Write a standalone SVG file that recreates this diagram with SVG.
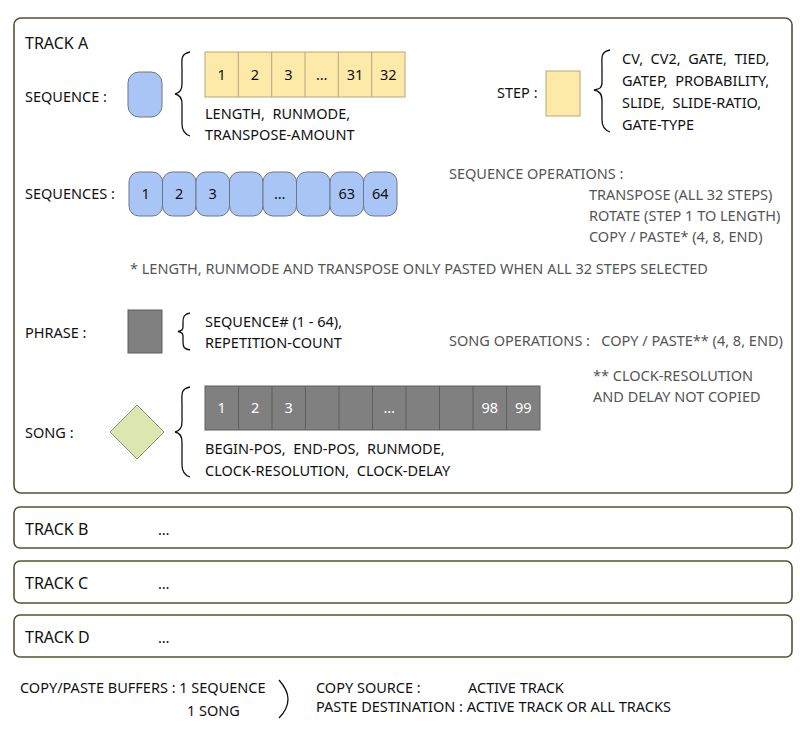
<svg xmlns="http://www.w3.org/2000/svg" width="800" height="740" viewBox="0 0 800 740" xml:space="preserve">
<style>
text{font-family:"Noto Sans","DejaVu Sans",sans-serif;font-size:14.5px;fill:#111;white-space:pre}
.h{font-size:16px}
.g{fill:#555}
.w{fill:#fff}
.c{text-anchor:middle}
.track{fill:#fff;stroke:#55532f;stroke-width:1.6}
.blue{fill:#a9c5f6;stroke:#6d7686;stroke-width:1}
.yel{fill:#fdeaa8;stroke:#b5a679;stroke-width:1}
.gry{fill:#808080;stroke:#5e5e5e;stroke-width:1}
.brace{fill:none;stroke:#111;stroke-width:1.3}
</style>
<rect width="800" height="740" fill="#fff"/>
<g id="trackA">
<rect class="track" x="14" y="18" width="778" height="475" rx="7"/>
<text class="h" x="25" y="49">TRACK A</text>
</g>
<g id="sequence">
<text x="25" y="102">SEQUENCE :</text>
<rect class="blue" x="128" y="72" width="34" height="45" rx="11"/>
<path class="brace" d="M190,52 C180,54 182,60 182,70 L182,84 C182,90 180,93 175,94 C180,95 182,98 182,104 L182,124 C182,130 184,134 190,136"/>
<g id="steps">
<rect class="yel" x="205" y="52" width="200" height="45"/>
<path class="yel" d="M238.3,52v45M271.7,52v45M305,52v45M338.3,52v45M371.7,52v45"/>
<text class="c" x="221.7" y="80">1</text>
<text class="c" x="255" y="80">2</text>
<text class="c" x="288.3" y="80">3</text>
<text class="c" x="321.7" y="80" font-size="10">…</text>
<text class="c" x="355" y="80">31</text>
<text class="c" x="388.3" y="80">32</text>
</g>
<text x="205" y="119">LENGTH,  RUNMODE,</text>
<text x="205" y="140">TRANSPOSE-AMOUNT</text>
</g>
<g id="step">
<text x="497" y="98">STEP :</text>
<rect class="yel" x="546" y="71" width="34" height="45"/>
<path class="brace" d="M610,50 C600,52 602,58 602,68 L602,82 C602,88 600,89 594,90 C600,91 602,94 602,100 L602,120 C602,126 604,130 610,132"/>
<text x="622" y="64">CV,  CV2,  GATE,  TIED,</text>
<text x="622" y="86">GATEP,  PROBABILITY,</text>
<text x="622" y="108">SLIDE,  SLIDE-RATIO,</text>
<text x="622" y="130">GATE-TYPE</text>
</g>
<g id="sequences">
<text x="25" y="199">SEQUENCES :</text>
<rect class="blue" x="129" y="172" width="33.5" height="44" rx="10"/>
<rect class="blue" x="162.5" y="172" width="33.5" height="44" rx="10"/>
<rect class="blue" x="196" y="172" width="33.5" height="44" rx="10"/>
<rect class="blue" x="229.5" y="172" width="33.5" height="44" rx="10"/>
<rect class="blue" x="263" y="172" width="33.5" height="44" rx="10"/>
<rect class="blue" x="296.5" y="172" width="33.5" height="44" rx="10"/>
<rect class="blue" x="330" y="172" width="33.5" height="44" rx="10"/>
<rect class="blue" x="363.5" y="172" width="33.5" height="44" rx="10"/>
<text class="c" x="145.7" y="199">1</text>
<text class="c" x="179.2" y="199">2</text>
<text class="c" x="212.7" y="199">3</text>
<text class="c" x="279.7" y="199" font-size="10">…</text>
<text class="c" x="346.7" y="199">63</text>
<text class="c" x="380.2" y="199">64</text>
</g>
<g id="seqops">
<text class="g" x="449" y="179">SEQUENCE OPERATIONS :</text>
<text class="g" x="589" y="200">TRANSPOSE (ALL 32 STEPS)</text>
<text class="g" x="589" y="221">ROTATE (STEP 1 TO LENGTH)</text>
<text class="g" x="589" y="242">COPY / PASTE* (4, 8, END)</text>
<text class="g" x="130" y="274">* LENGTH, RUNMODE AND TRANSPOSE ONLY PASTED WHEN ALL 32 STEPS SELECTED</text>
</g>
<g id="phrase">
<text x="25" y="338">PHRASE :</text>
<rect class="gry" x="128" y="310" width="34" height="43"/>
<path class="brace" d="M190,313 C184,314 183,317 183,322 L183,327 C183,330 181,331 178,331.5 C181,332 183,333 183,336 L183,342 C183,347 184,349 190,350"/>
<text x="205" y="327">SEQUENCE# (1 - 64),</text>
<text x="205" y="348">REPETITION-COUNT</text>
</g>
<g id="songops">
<text class="g" x="449" y="346">SONG OPERATIONS :   COPY / PASTE** (4, 8, END)</text>
<text class="g" x="593" y="381">** CLOCK-RESOLUTION</text>
<text class="g" x="593" y="402">AND DELAY NOT COPIED</text>
</g>
<g id="song">
<text x="25" y="438">SONG :</text>
<path d="M137,405 L164,432 L137,459 L110,432 Z" fill="#dbe6b0" stroke="#8c9474" stroke-width="1"/>
<path class="brace" d="M190,387 C180,389 182,395 182,405 L182,422 C182,428 180,431 175,432 C180,433 182,436 182,442 L182,465 C182,471 184,475 190,477"/>
<g id="songcells">
<rect class="gry" x="205" y="386" width="335" height="44"/>
<path class="gry" d="M238.5,386v44M272,386v44M305.5,386v44M339,386v44M372.5,386v44M406,386v44M439.5,386v44M473,386v44M506.5,386v44"/>
<text class="c w" x="221.7" y="413">1</text>
<text class="c w" x="255.2" y="413">2</text>
<text class="c w" x="288.7" y="413">3</text>
<text class="c w" x="389.2" y="413" font-size="10">…</text>
<text class="c w" x="489.7" y="413">98</text>
<text class="c w" x="523.2" y="413">99</text>
</g>
<text x="205" y="454">BEGIN-POS,  END-POS,  RUNMODE,</text>
<text x="205" y="476">CLOCK-RESOLUTION,  CLOCK-DELAY</text>
</g>
<g id="trackB">
<rect class="track" x="14" y="507" width="778" height="41" rx="6"/>
<text class="h" x="25" y="535">TRACK B</text>
<text x="158" y="535" font-size="10">…</text>
</g>
<g id="trackC">
<rect class="track" x="14" y="561" width="778" height="42" rx="6"/>
<text class="h" x="25" y="589">TRACK C</text>
<text x="158" y="589" font-size="10">…</text>
</g>
<g id="trackD">
<rect class="track" x="14" y="615" width="778" height="42" rx="6"/>
<text class="h" x="25" y="643">TRACK D</text>
<text x="158" y="643" font-size="10">…</text>
</g>
<g id="buffers">
<text x="20" y="693">COPY/PASTE BUFFERS : 1 SEQUENCE</text>
<text x="187" y="716">1 SONG</text>
<path class="brace" d="M279,680 C286,688 288,694 288,699 C288,705 286,711 279,718"/>
<text x="316" y="693">COPY SOURCE :</text>
<text x="468" y="693">ACTIVE TRACK</text>
<text x="316" y="712">PASTE DESTINATION : ACTIVE TRACK OR ALL TRACKS</text>
</g>
</svg>
